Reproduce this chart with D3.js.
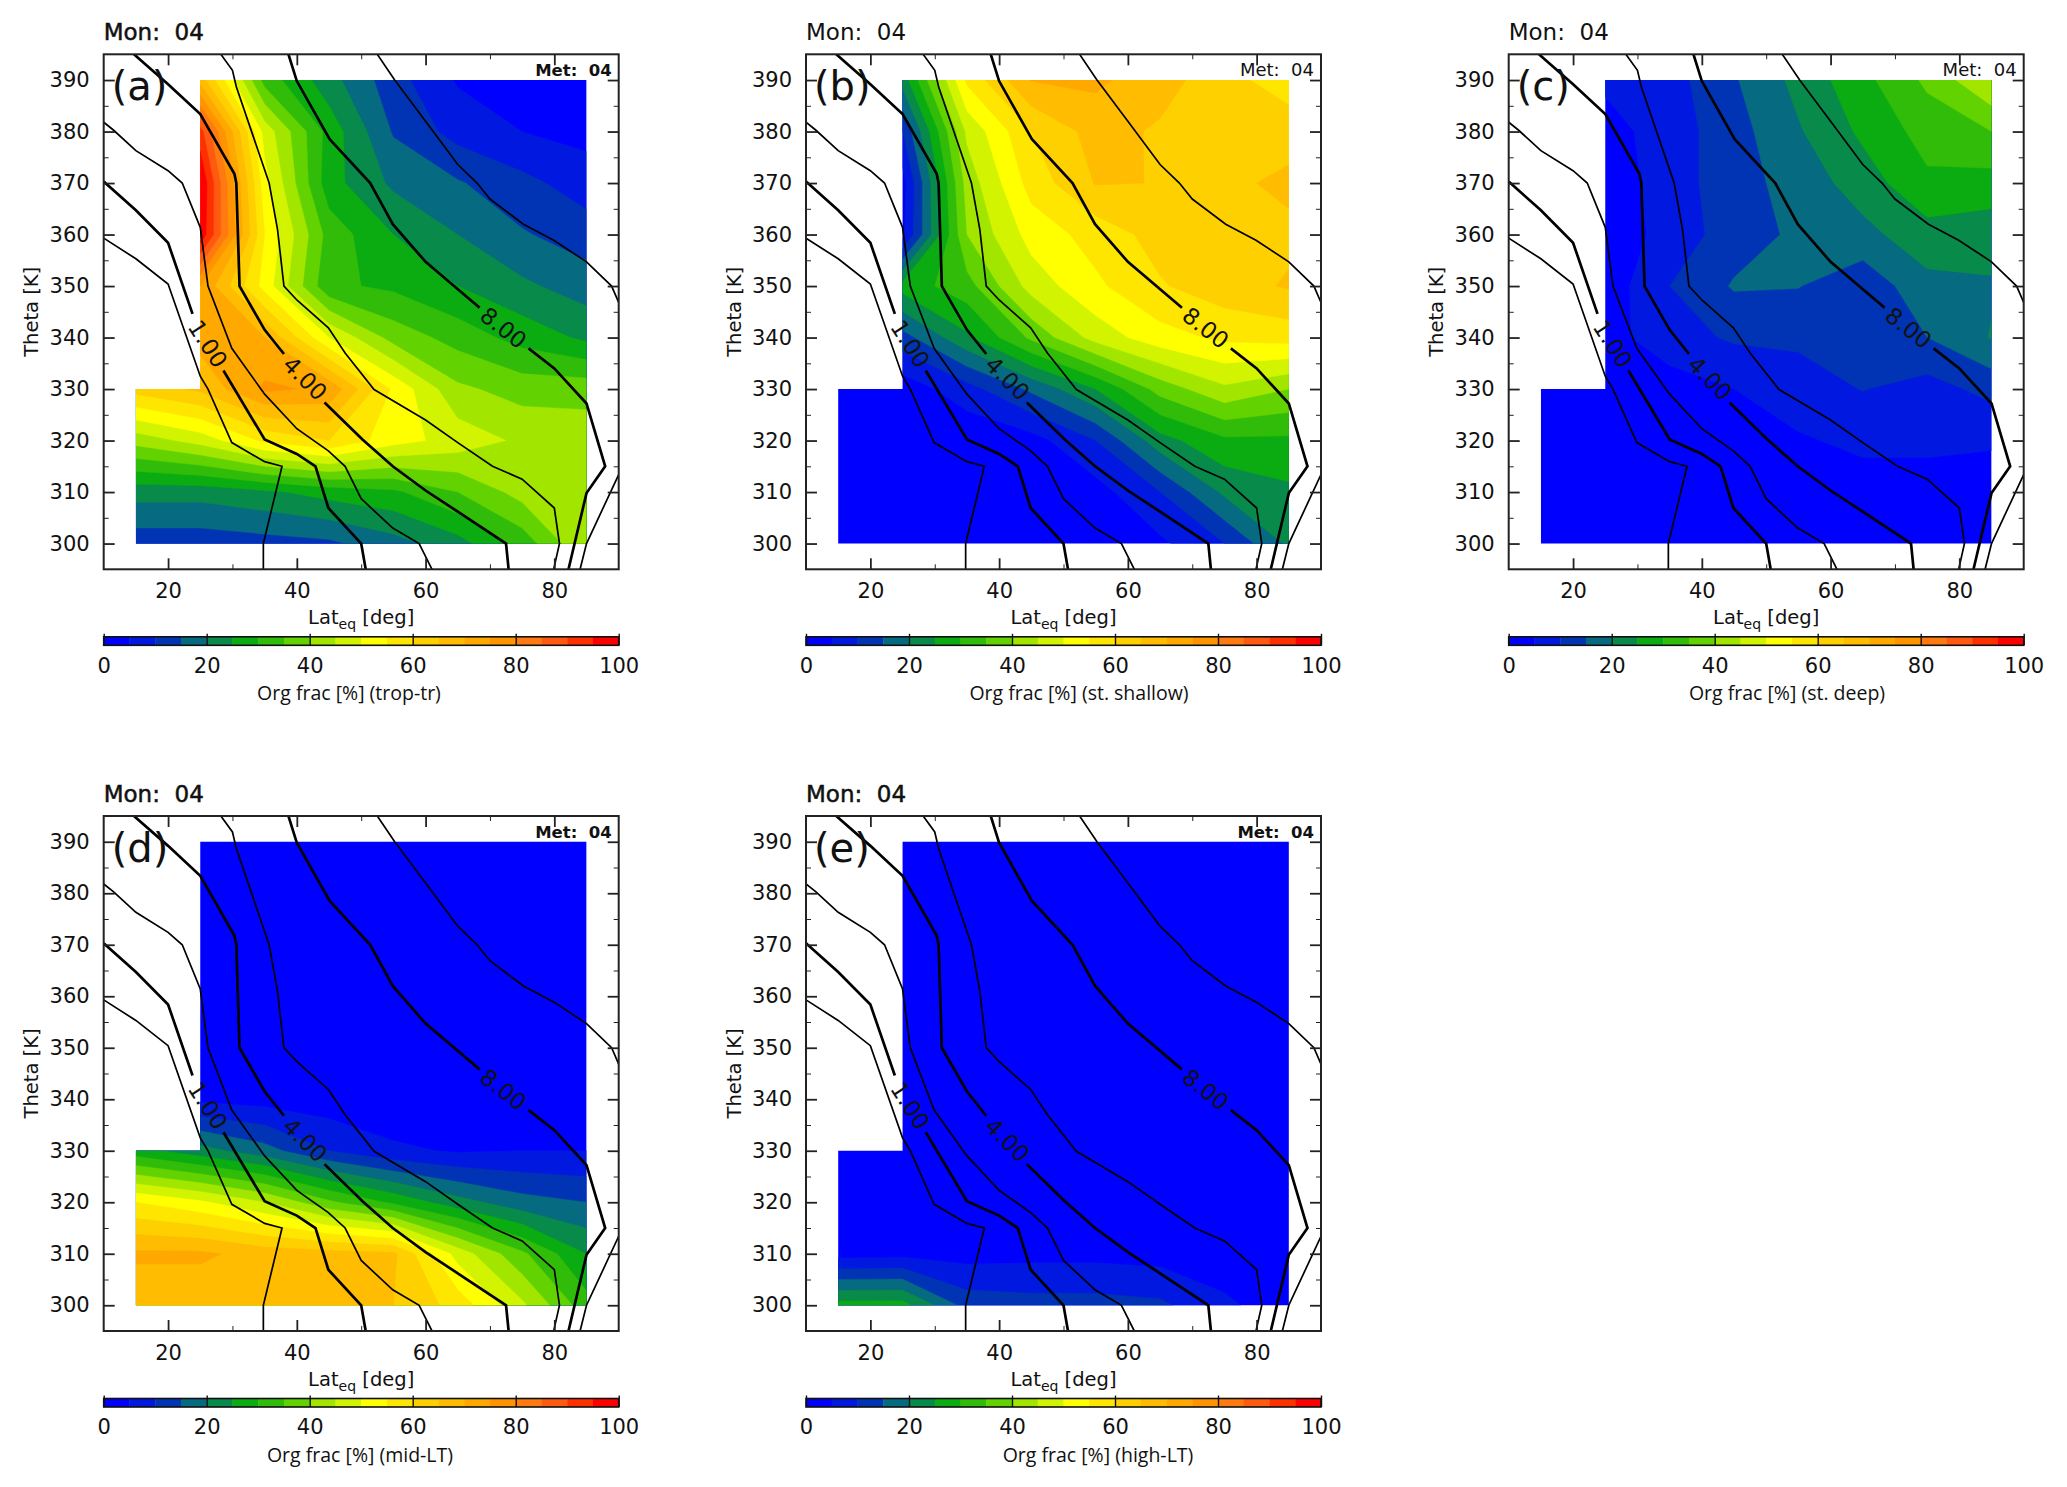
<!DOCTYPE html>
<html>
<head>
<meta charset="utf-8">
<script src="https://cdn.jsdelivr.net/npm/d3@7"></script>
<style>
	html, body { margin: 0; background: #fff; }
	svg { display: block; }
	text { font-family: "DejaVu Sans", sans-serif; fill: #111; white-space: pre; }
	.note { font-family: "Open Sans", sans-serif; }
</style>
</head>
<body>
<script>
// Grid of the model output
const lats = [15, 25, 35, 45, 55, 65, 75, 85];
const thetas = [300, 310, 320, 330, 340, 350, 360, 370, 380, 390];

// Org fraction [%], one row per theta level from 300 K up
const fracTropTr = [
	[12, 12, 13, 14, 18, 23, 32, 45],
	[22, 22, 24, 27, 29, 35, 42, 43],
	[42, 47, 56, 60, 52, 48, 44, 43],
	[62, 66, 76, 74, 54, 41, 38, 38],
	[null, 72, 70, 50, 38, 33, 28, 24],
	[null, 75, 53, 31, 29, 25, 21, 17.5],
	[null, 99, 55, 33, 25, 20, 15.5, 12.5],
	[null, 100, 52, 27, 19, 15.5, 11.5, 7.4],
	[null, 92, 48, 28, 14.5, 8, 5, 3.5],
	[null, 68, 33, 22, 12, 4.5, 2.5, 2]
];
const fracShallow = [
	[0, 0, 0, 0, 1, 4, 10, 21],
	[1, 0, 0, 1, 3, 10, 21, 24],
	[1, 0, 1, 3, 10, 23, 29, 29],
	[1, 2, 8, 16, 25, 37, 44, 40],
	[null, 13, 24, 36, 47, 53, 56, 57],
	[null, 27, 33, 47, 54, 59.5, 63, 65.5],
	[null, 4, 40, 52, 57, 62, 63, 64],
	[null, 3, 42, 57, 65.3, 64.9, 64, 66],
	[null, 10, 46, 60, 67, 64.3, 63, 63.2],
	[null, 22, 56, 70.2, 71, 67, 62, 57]
];
const fracDeep = [
	[0.5, 0.5, 0.5, 0.5, 0.5, 0.5, 0.5, 0.5],
	[1, 1, 1, 1, 1, 3, 3, 3],
	[1, 0.5, 1, 1.5, 4.5, 6, 6, 5.5],
	[1, 1, 2.5, 5, 7.5, 10.2, 8, 11.6],
	[null, 3, 8, 10.7, 11, 11, 15, 20.3],
	[null, 2, 10, 15.5, 15.2, 11.5, 18.5, 19.5],
	[null, 1.5, 7, 12.5, 16, 18.5, 23, 22],
	[null, 2, 7.5, 13, 17, 22.5, 29, 28],
	[null, 3, 7.5, 13, 19.5, 26, 32, 35],
	[null, 6, 8, 14.5, 21.5, 28.5, 36, 45]
];
const fracMidLT = [
	[66, 66, 70, 66, 65, 58, 46, 32],
	[71, 71, 68, 67, 66, 48, 36, 25],
	[55, 51, 45, 36, 29, 22, 17, 15],
	[27, 22, 17, 10, 6, 4.5, 5, 5],
	[null, 4, 3, 2, 1, 1, 1, 0.5],
	[null, 0.5, 0.5, 0.5, 0.5, 0.5, 0.5, 0.5],
	[null, 0.5, 0.5, 0.5, 0.5, 0.5, 0.5, 0.5],
	[null, 0.5, 0.5, 0.5, 0.5, 0.5, 0.5, 0.5],
	[null, 0.5, 0.5, 0.5, 0.5, 0.5, 0.5, 0.5],
	[null, 0.5, 0.5, 0.5, 0.5, 0.5, 0.5, 0.5]
];
const fracHighLT = [
	[27, 27, 13, 12, 12, 11, 6, 2],
	[3, 3.5, 3, 3.5, 3.5, 3, 2, 1],
	[0.5, 0.5, 0.5, 0.5, 0.5, 0.5, 0.5, 0.5],
	[0.5, 0.5, 0.5, 0.5, 0.5, 0.5, 0.5, 0.5],
	[null, 0.5, 0.5, 0.5, 0.5, 0.5, 0.5, 0.5],
	[null, 0.5, 0.5, 0.5, 0.5, 0.5, 0.5, 0.5],
	[null, 0.5, 0.5, 0.5, 0.5, 0.5, 0.5, 0.5],
	[null, 0.5, 0.5, 0.5, 0.5, 0.5, 0.5, 0.5],
	[null, 0.5, 0.5, 0.5, 0.5, 0.5, 0.5, 0.5],
	[null, 0.5, 0.5, 0.5, 0.5, 0.5, 0.5, 0.5]
];

// Colour of each 5 % band
const bandLimits = d3.range(0, 100, 5);
const bandColors = ['#0000ff', '#0018e0', '#0034b4', '#066a80', '#088a4a', '#0aac12', '#30bc08', '#62d200', '#a2e600', '#d2f400',
	'#ffff00', '#ffe600', '#ffd000', '#ffbc00', '#ffa800', '#ff9400', '#ff7a10', '#ff5a10', '#ff3000', '#ff0000'];

// Black overlay lines as [lat, theta], null leaves the gap for a label
const lineA = [[10, 359.3], [15, 355.3], [20, 350.4], [25, 332.5], [26.2, 330], [29.9, 319.6], [35, 315.9], [37.7, 315], [34.8, 300], [34.8, 295]];
const lineB = [[10, 370.3], [15, 364.7], [20, 358.4], [23.8, 344.6], null, [28.6, 333.6], [35, 320.2], [40, 317.4], [42.9, 315], [44.9, 306.9], [50, 300], [50.7, 295]];
const lineC = [[10, 381.8], [11.5, 380.3], [15, 376.3], [20, 372.4], [22.2, 370], [25, 361.4], [26.2, 350], [29.9, 337.9], [35, 329], [40, 322.3], [44.9, 318], [47.5, 315], [50, 308.7], [54.9, 303], [59, 300], [61, 295]];
const lineD = [[14.7, 395], [20, 389.2], [25, 383.4], [30.3, 371.8], [30.6, 370], [31.1, 350], [35, 341.5], [38, 336.8], null, [44.3, 327.4], [50.2, 320.2], [54.9, 315], [60, 310.3], [65, 306.2], [72.5, 300], [72.9, 295]];
const lineE = [[28.2, 395], [30, 391.9], [30.6, 388.7], [35.7, 370], [37, 361], [38, 350], [40, 347.3], [44.9, 341.9], [47.5, 337], [52, 329.9], [60, 324], [65, 319.6], [70.4, 315], [75, 312.5], [80, 306.9], [80.8, 300], [79.9, 295]];
const lineF = [[38.7, 395], [40, 389.8], [45.1, 378.5], [51.4, 370], [54.9, 362], [60, 354.7], [68.4, 345.8], null, [76, 337.9], [80, 334], [85, 327.2], [87.9, 315], [85, 309.8], [82.2, 295]];
const lineG = [[52.5, 395], [55.2, 390], [60, 382], [65, 373.6], [68, 370], [70, 366.9], [75.2, 362], [79.9, 358.9], [85, 354.7], [88.9, 350], [90, 346.8]];
const lineH = [[84, 295], [85, 300], [90, 313.4]];
const thinLines = [lineA, lineC, lineE, lineG, lineH];
const thickLines = [lineB, lineD, lineF];

const lineLabels = ['1.00', '4.00', '8.00'];
const labelLats = [26.2, 41.3, 72.1];
const labelThetas = [338.8, 332.1, 341.9];
const labelAngles = [57, 45, 38];

const panelTags = ['(a)', '(b)', '(c)', '(d)', '(e)'];
const panelNames = ['Org frac [%] (trop-tr)', 'Org frac [%] (st. shallow)', 'Org frac [%] (st. deep)', 'Org frac [%] (mid-LT)', 'Org frac [%] (high-LT)'];
const panelData = [fracTropTr, fracShallow, fracDeep, fracMidLT, fracHighLT];
const panelLeft = [103.7, 806, 1508.7, 103.7, 806];
const panelTop = [54.3, 54.3, 54.3, 816, 816];
const nameCentre = [349, 1079, 1787, 360, 1098];
const boldPanels = [true, false, false, true, true];

const plotSize = 515;

const svg = d3.select('body').append('svg')
	.attr('width', 2067)
	.attr('height', 1487);

svg.append('rect').attr('width', 2067).attr('height', 1487).attr('fill', '#fff');

panelData.forEach((frac, i) => drawPanel(i, frac));

//

function drawPanel(idx, frac) {
	const g = svg.append('g').attr('transform', `translate(${panelLeft[idx]},${panelTop[idx]})`);

	const x = d3.scaleLinear().domain([10, 90]).range([0, plotSize]);
	const y = d3.scaleLinear().domain([295, 395]).range([plotSize, 0]);

	// Holes above the top of the lat 15 column get the last value below, the clip hides them
	const filled = frac.map(row => row.slice());
	filled.forEach((row, j) => row.forEach((v, k) => {
		if (v === null) row[k] = filled[j - 1][k];
	}));

	const contours = d3.contours()
		.size([lats.length, thetas.length])
		.thresholds(bandLimits)(filled.flat());

	// contour coordinates have grid points at half integers
	const toPlot = d3.geoTransform({
		point: function(gx, gy) {
			this.stream.point(
				x(lats[0] + (gx - 0.5) * (lats[1] - lats[0])),
				y(thetas[0] + (gy - 0.5) * (thetas[1] - thetas[0]))
			);
		}
	});
	const path = d3.geoPath(toPlot);

	// Area that has data
	const maskId = `mask-${idx}`;
	const maskPts = [[15, 300], [15, 330], [25, 330], [25, 390], [85, 390], [85, 300]];
	g.append('clipPath').attr('id', maskId)
		.append('path')
		.attr('d', d3.line().x(d => x(d[0])).y(d => y(d[1]))(maskPts) + 'Z');

	g.append('g').attr('clip-path', `url(#${maskId})`)
		.selectAll('path')
		.data(contours)
		.join('path')
		.attr('d', path)
		.attr('fill', (d, k) => bandColors[k])
		.attr('stroke', (d, k) => bandColors[k])
		.attr('stroke-width', 0.4);

	// Overlay lines
	const frameId = `frame-${idx}`;
	g.append('clipPath').attr('id', frameId)
		.append('rect').attr('width', plotSize).attr('height', plotSize);

	const lineGen = d3.line()
		.defined(d => d !== null)
		.x(d => x(d[0]))
		.y(d => y(d[1]));

	const lines = g.append('g').attr('clip-path', `url(#${frameId})`).attr('fill', 'none').attr('stroke', '#000');
	lines.selectAll('path.thin').data(thinLines).join('path')
		.attr('class', 'thin').attr('d', lineGen).attr('stroke-width', 1.7);
	lines.selectAll('path.thick').data(thickLines).join('path')
		.attr('class', 'thick').attr('d', lineGen).attr('stroke-width', 2.7);

	lineLabels.forEach((label, k) => {
		g.append('text')
			.attr('transform', `translate(${x(labelLats[k])},${y(labelThetas[k])}) rotate(${labelAngles[k]})`)
			.attr('text-anchor', 'middle')
			.attr('dy', '0.36em')
			.attr('font-size', 23)
			.text(label);
	});

	drawFrame(g, x, y);

	// Texts round the plot
	const title = g.append('text')
		.attr('x', 0)
		.attr('y', -14)
		.attr('font-size', 23)
		.text('Mon:  04');
	if (boldPanels[idx]) title.attr('stroke', '#111').attr('stroke-width', 0.5);

	g.append('text')
		.attr('x', plotSize - 7)
		.attr('y', 22)
		.attr('text-anchor', 'end')
		.attr('font-size', boldPanels[idx] ? 16.5 : 18)
		.attr('font-weight', boldPanels[idx] ? 'bold' : 'normal')
		.text('Met:  04');

	g.append('text')
		.attr('x', 8)
		.attr('y', 46)
		.attr('font-size', 40)
		.text(panelTags[idx]);

	g.append('text')
		.attr('transform', `translate(-65.5,${y(345)}) rotate(-90)`)
		.attr('text-anchor', 'middle')
		.attr('font-size', 19.5)
		.text('Theta [K]');

	const latLabel = g.append('text')
		.attr('x', plotSize / 2)
		.attr('y', plotSize + 55)
		.attr('text-anchor', 'middle')
		.attr('font-size', 19.5);
	latLabel.append('tspan').text('Lat');
	latLabel.append('tspan').attr('dy', 5).attr('font-size', 14).text('eq');
	latLabel.append('tspan').attr('dy', -5).text(' [deg]');

	drawColorBar(g, idx);
}

function drawFrame(g, x, y) {
	const latMajor = [20, 40, 60, 80];
	const latMinor = [30, 50, 70];
	const thetaMajor = d3.range(300, 391, 10);
	const thetaMinor = d3.range(305, 391, 10);

	const axes = [
		{ gen: d3.axisBottom(x), shift: [0, plotSize], major: latMajor, minor: latMinor, labels: true },
		{ gen: d3.axisTop(x), shift: [0, 0], major: latMajor, minor: latMinor, labels: false },
		{ gen: d3.axisLeft(y), shift: [0, 0], major: thetaMajor, minor: thetaMinor, labels: true },
		{ gen: d3.axisRight(y), shift: [plotSize, 0], major: thetaMajor, minor: thetaMinor, labels: false }
	];

	axes.forEach(a => {
		const minor = g.append('g').attr('transform', `translate(${a.shift})`)
			.call(a.gen.tickValues(a.minor).tickSizeInner(-5).tickSizeOuter(0).tickFormat(''));
		minor.select('.domain').remove();
		minor.selectAll('line').attr('stroke', '#222').attr('stroke-width', 1);

		const major = g.append('g').attr('transform', `translate(${a.shift})`)
			.call(a.gen.tickValues(a.major).tickSizeInner(-11).tickSizeOuter(0).tickPadding(a.labels ? 14 : 0)
				.tickFormat(a.labels ? d3.format('d') : ''));
		major.select('.domain').remove();
		major.selectAll('line').attr('stroke', '#222').attr('stroke-width', 1.8);
		major.selectAll('text').attr('font-size', 21).attr('font-family', null);
	});

	g.append('rect')
		.attr('width', plotSize)
		.attr('height', plotSize)
		.attr('fill', 'none')
		.attr('stroke', '#222')
		.attr('stroke-width', 2);
}

function drawColorBar(g, idx) {
	const top = plotSize + 67.5;
	const barHeight = 8.5;
	const c = d3.scaleLinear().domain([0, 100]).range([0, plotSize]);
	const bar = g.append('g').attr('transform', `translate(0,${top})`);

	bar.selectAll('rect.band')
		.data(bandLimits)
		.join('rect')
		.attr('class', 'band')
		.attr('x', d => c(d))
		.attr('width', d => c(d + 5) - c(d) + 0.4)
		.attr('height', barHeight)
		.attr('fill', (d, k) => bandColors[k]);

	bar.append('rect')
		.attr('width', plotSize)
		.attr('height', barHeight)
		.attr('fill', 'none')
		.attr('stroke', '#111')
		.attr('stroke-width', 1.6);

	const axis = bar.append('g')
		.attr('transform', `translate(0,${barHeight})`)
		.call(d3.axisBottom(c).tickValues(d3.range(0, 101, 20)).tickSizeInner(-(barHeight + 3)).tickSizeOuter(0).tickPadding(12.5).tickFormat(d3.format('d')));
	axis.select('.domain').remove();
	axis.selectAll('line').attr('stroke', '#111').attr('stroke-width', 1.4);
	axis.selectAll('text').attr('font-size', 21).attr('font-family', null);

	g.append('text')
		.attr('class', 'note')
		.attr('x', nameCentre[idx] - panelLeft[idx])
		.attr('y', plotSize + 130.5)
		.attr('text-anchor', 'middle')
		.attr('font-size', 19.5)
		.text(panelNames[idx]);
}
</script>
</body>
</html>
